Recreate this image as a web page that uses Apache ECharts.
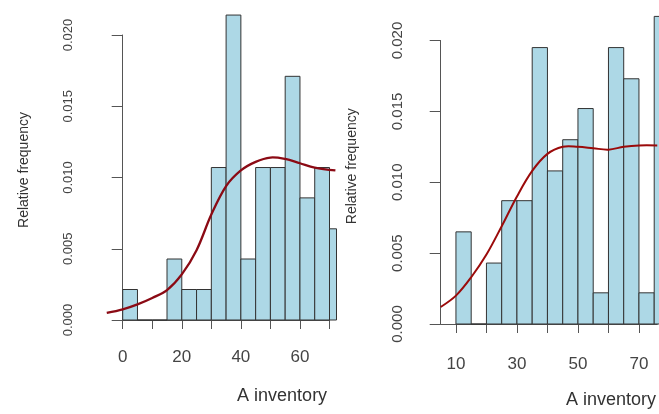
<!DOCTYPE html>
<html lang="en">

<head>
  <meta charset="UTF-8">
  <title>A inventory histograms</title>
  <style>
    html, body { margin: 0; padding: 0; background: #fff; }
  </style>
</head>

<body>
  <div id="main" style="width: 659px; height: 414px;"></div>
  <script src="https://cdn.jsdelivr.net/npm/echarts@6/dist/echarts.min.js"></script>
  <script type="text/javascript">
    // data (bins are 5 units wide)
    var binWidth = 5;
    var leftBinStart = 0;
    var leftFreq = [0.00214, 0, 0, 0.00428, 0.00214, 0.00214, 0.0107, 0.0214, 0.00428, 0.0107, 0.0107, 0.0171, 0.00857, 0.0107, 0.0064];
    var leftDensX = [-5.4, 0, 5, 10, 15, 20, 25, 30, 35, 40, 45, 50, 55, 60, 65, 72];
    var leftDensY = [0.0005, 0.00075, 0.0011, 0.00155, 0.0021, 0.0032, 0.0049, 0.0074, 0.0094, 0.0105, 0.0111, 0.0114, 0.0113, 0.011, 0.0107, 0.0105];

    var rightBinStart = 10;
    var rightFreq = [0.0065, 0, 0.0043, 0.0087, 0.0087, 0.0195, 0.0108, 0.013, 0.0152, 0.0022, 0.0195, 0.0173, 0.0022, 0.0217];
    var rightDensX = [5, 10, 15, 20, 25, 30, 35, 40, 45, 50, 55, 60, 65, 70, 76];
    var rightDensY = [0.0012, 0.002, 0.0033, 0.0049, 0.0069, 0.009, 0.0108, 0.012, 0.0125, 0.0125, 0.0124, 0.0123, 0.0125, 0.0126, 0.0126];

    var yTicks = [0, 0.005, 0.01, 0.015, 0.02];
    var leftXTicks = [0, 10, 20, 30, 40, 50, 60, 70];
    var leftXLabels = [0, 20, 40, 60];
    var rightXTicks = [10, 20, 30, 40, 50, 60, 70];
    var rightXLabels = [10, 30, 50, 70];

    var FONT = 'Liberation Sans, Arial, sans-serif';
    var AXIS_COLOR = '#555';

    function bins(start, freq) {
      return freq.map(function (f, i) {
        return [start + i * binWidth, start + (i + 1) * binWidth, f];
      });
    }
    function pairs(xs, ys) {
      return xs.map(function (x, i) { return [x, ys[i]]; });
    }

    // histogram bars; the left panel was cut off a few px past its axis end
    function histItem(extraRight) {
      return function (params, api) {
        var p0 = api.coord([api.value(0), api.value(2)]);
        var p1 = api.coord([api.value(1), 0]);
        var cs = params.coordSys;
        var rect = echarts.graphic.clipRectByRect(
          { x: p0[0], y: p0[1], width: p1[0] - p0[0], height: p1[1] - p0[1] },
          { x: cs.x - 20, y: cs.y - 40, width: cs.width + 20 + extraRight, height: cs.height + 80 }
        );
        if (!rect) return;
        return {
          type: 'rect',
          shape: rect,
          style: { fill: '#ADD8E6', stroke: '#333', lineWidth: 1 }
        };
      };
    }

    // density curve as one smoothed polyline (it starts left of the axis min)
    function densItem(xs, ys, color, width) {
      return function (params, api) {
        if (params.dataIndex !== 0) return;
        var pts = xs.map(function (x, i) { return api.coord([x, ys[i]]); });
        return {
          type: 'polyline',
          shape: { points: pts, smooth: 0.35 },
          style: { stroke: color, lineWidth: width, fill: null }
        };
      };
    }

    function xAxisOpt(grid, min, max, ticks, labels, offset, labelMargin, nameGap, namePad) {
      return {
        type: 'value', gridIndex: grid, min: min, max: max, offset: offset,
        name: 'A inventory', nameLocation: 'middle', nameGap: nameGap,
        nameTextStyle: { fontFamily: FONT, fontSize: 18, color: '#333', padding: [0, 0, 0, namePad] },
        axisLine: { show: true, lineStyle: { color: AXIS_COLOR, width: 1 } },
        axisTick: { show: true, length: 9, customValues: ticks, lineStyle: { color: AXIS_COLOR } },
        axisLabel: { customValues: labels, margin: labelMargin, fontFamily: FONT, fontSize: 17, color: '#444' },
        splitLine: { show: false }
      };
    }

    function yAxisOpt(grid, offset, fontSize, labelMargin, nameGap, namePad) {
      return {
        type: 'value', gridIndex: grid, min: 0, max: 0.02, offset: offset,
        name: 'Relative frequency', nameLocation: 'middle', nameRotate: 90, nameGap: nameGap,
        nameTextStyle: { fontFamily: FONT, fontSize: 14, color: '#333', padding: [0, 0, 0, namePad] },
        axisLine: { show: true, lineStyle: { color: AXIS_COLOR, width: 1 } },
        axisTick: { show: true, length: 11, customValues: yTicks, lineStyle: { color: AXIS_COLOR } },
        axisLabel: {
          customValues: yTicks, rotate: 90, margin: labelMargin,
          fontFamily: FONT, fontSize: fontSize, color: '#444',
          formatter: function (v) { return v.toFixed(3); }
        },
        splitLine: { show: false }
      };
    }

    var myChart = echarts.init(document.getElementById('main'));

    option = {
      animation: false,
      backgroundColor: '#fff',
      grid: [
        { left: 122.7, right: 329.5, top: 35, bottom: 94 },
        { left: 440.7, right: 0.3, top: 40.5, bottom: 84 }
      ],
      xAxis: [
        xAxisOpt(0, 0, 70, leftXTicks, leftXLabels, 14, 15, 53, 112),
        xAxisOpt(1, 5, 76, rightXTicks, rightXLabels, 12, 20, 55, 124)
      ],
      yAxis: [
        yAxisOpt(0, 16.7, 13, 31, 75, 15),
        yAxisOpt(1, 0, 15, 35, 82, 32)
      ],
      series: [
        {
          type: 'custom', xAxisIndex: 0, yAxisIndex: 0, clip: false,
          renderItem: histItem(7), data: bins(leftBinStart, leftFreq)
        },
        {
          type: 'custom', xAxisIndex: 0, yAxisIndex: 0, clip: false,
          renderItem: densItem(leftDensX, leftDensY, '#8B0A14', 2.3),
          data: pairs(leftDensX, leftDensY)
        },
        {
          type: 'custom', xAxisIndex: 1, yAxisIndex: 1, clip: false,
          renderItem: histItem(40), data: bins(rightBinStart, rightFreq)
        },
        {
          type: 'custom', xAxisIndex: 1, yAxisIndex: 1, clip: false,
          renderItem: densItem(rightDensX, rightDensY, '#9B0A0A', 2),
          data: pairs(rightDensX, rightDensY)
        }
      ]
    };
    myChart.setOption(option);
  </script>
</body>

</html>
